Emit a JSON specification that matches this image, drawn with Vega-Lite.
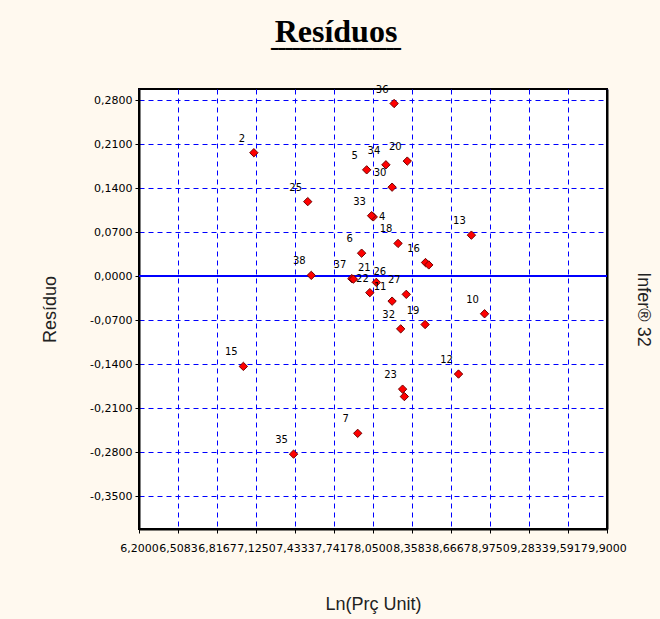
{
  "$schema": "https://vega.github.io/schema/vega-lite/v6.json",
  "width": 468,
  "height": 440,
  "autosize": {"type": "none"},
  "padding": {"left": 139, "top": 89, "right": 53, "bottom": 90},
  "background": "#fff9ef",
  "config": {
    "locale": {"number": {"decimal": ",", "thousands": ".", "grouping": [3], "currency": ["", ""], "minus": "-"}},
    "view": {"fill": "#ffffff", "stroke": "#000000", "strokeWidth": 2},
    "axis": {
      "labelFont": "DejaVu Sans",
      "labelFontSize": 11,
      "labelColor": "#000000",
      "labelOverlap": false,
      "tickColor": "#000000",
      "tickSize": 4,
      "domain": true,
      "domainColor": "#000000",
      "domainWidth": 2,
      "gridColor": "#0000ff",
      "gridDash": [5, 4],
      "gridWidth": 1,
      "gridOpacity": 1,
      "titleFont": "Liberation Sans",
      "titleFontSize": 18,
      "titleFontWeight": "normal",
      "titleColor": "#222222"
    },
    "axisX": {"labelOverlap": false, "labelFlush": false, "labelBound": false, "labelPadding": 9, "titlePadding": 42},
    "axisLeft": {"labelPadding": 3, "titlePadding": 30}
  },
  "title": {
    "text": "Resíduos",
    "subtitle": "━━━━━━━━━━━━━━━━━━",
    "frame": "group",
    "anchor": "middle",
    "dx": -37,
    "offset": 29,
    "font": "Liberation Serif",
    "fontSize": 32,
    "fontWeight": "bold",
    "color": "#000000",
    "subtitleFont": "DejaVu Sans",
    "subtitleFontSize": 12,
    "subtitleColor": "#000000",
    "subtitlePadding": -5
  },
  "data": {
    "values": [
      {"id": "2", "x": 7.108, "y": 0.1961},
      {"id": "5", "x": 8.000, "y": 0.1689},
      {"id": "34", "x": 8.152, "y": 0.1769},
      {"id": "20", "x": 8.321, "y": 0.1828},
      {"id": "30", "x": 8.201, "y": 0.1413},
      {"id": "36", "x": 8.217, "y": 0.2744},
      {"id": "25", "x": 7.534, "y": 0.1183},
      {"id": "4", "x": 8.052, "y": 0.0940},
      {"id": "33", "x": 8.039, "y": 0.0959},
      {"id": "18", "x": 8.248, "y": 0.0518},
      {"id": "13", "x": 8.828, "y": 0.0650},
      {"id": "6", "x": 7.960, "y": 0.0363},
      {"id": "16", "x": 8.465, "y": 0.0214},
      {"id": "", "x": 8.491, "y": 0.0176},
      {"id": "38", "x": 7.562, "y": 0.0010},
      {"id": "37", "x": 7.883, "y": -0.0042},
      {"id": "22", "x": 7.895, "y": -0.0050},
      {"id": "21", "x": 8.076, "y": -0.0101},
      {"id": "26", "x": 8.025, "y": -0.0265},
      {"id": "11", "x": 8.201, "y": -0.0400},
      {"id": "27", "x": 8.313, "y": -0.0292},
      {"id": "19", "x": 8.462, "y": -0.0772},
      {"id": "32", "x": 8.269, "y": -0.0841},
      {"id": "10", "x": 8.932, "y": -0.0601},
      {"id": "12", "x": 8.726, "y": -0.1560},
      {"id": "15", "x": 7.025, "y": -0.1438},
      {"id": "23", "x": 8.284, "y": -0.1800},
      {"id": "", "x": 8.298, "y": -0.1918},
      {"id": "7", "x": 7.929, "y": -0.2503},
      {"id": "35", "x": 7.422, "y": -0.2834}
    ]
  },
  "encoding": {
    "x": {
      "field": "x",
      "type": "quantitative",
      "scale": {"domain": [6.2, 9.9], "nice": false, "zero": false},
      "axis": {
        "values": [6.2, 6.508333, 6.816667, 7.125, 7.433333, 7.741667, 8.05, 8.358333, 8.666667, 8.975, 9.283333, 9.591667, 9.9],
        "format": ".4f",
        "title": "Ln(Prç Unit)",
        "labelOverlap": false,
        "grid": true
      }
    }
  },
  "resolve": {"axis": {"y": "independent"}},
  "layer": [
    {
      "mark": {"type": "rule", "color": "#0000ff", "strokeWidth": 2},
      "encoding": {
        "x": {"datum": 6.2, "type": "quantitative"},
        "x2": {"datum": 9.9},
        "y": {
          "datum": 0,
          "type": "quantitative",
          "scale": {"domain": [-0.4025, 0.2975], "nice": false, "zero": false},
          "axis": {"orient": "right", "title": "Infer® 32", "titleAngle": 90, "titlePadding": 26, "labels": false, "ticks": false, "domain": true, "grid": false}
        }
      }
    },
    {
      "mark": {"type": "point", "shape": "diamond", "filled": true, "size": 70, "fill": "#ff0000", "stroke": "#700000", "strokeWidth": 1, "opacity": 1},
      "encoding": {
        "y": {
          "field": "y",
          "type": "quantitative",
          "scale": {"domain": [-0.4025, 0.2975], "nice": false, "zero": false},
          "axis": {
            "values": [-0.35, -0.28, -0.21, -0.14, -0.07, 0, 0.07, 0.14, 0.21, 0.28],
            "format": ".4f",
            "title": "Resíduo",
            "labelOverlap": false,
            "grid": true
          }
        }
      }
    },
    {
      "transform": [{"filter": "indexof(['4','22','26'], datum.id) < 0"}],
      "mark": {"type": "text", "font": "DejaVu Sans", "fontSize": 10, "color": "#000000", "align": "center", "baseline": "middle", "dx": -12, "dy": -14},
      "encoding": {
        "y": {"field": "y", "type": "quantitative", "axis": null},
        "text": {"field": "id"}
      }
    },
    {
      "transform": [{"filter": "datum.id == '4' || datum.id == '22'"}],
      "mark": {"type": "text", "font": "DejaVu Sans", "fontSize": 10, "color": "#000000", "align": "center", "baseline": "middle", "dx": 9, "dy": 0},
      "encoding": {
        "y": {"field": "y", "type": "quantitative", "axis": null},
        "text": {"field": "id"}
      }
    },
    {
      "transform": [{"filter": "datum.id == '26'"}],
      "mark": {"type": "text", "font": "DejaVu Sans", "fontSize": 10, "color": "#000000", "align": "center", "baseline": "middle", "dx": 10, "dy": -21},
      "encoding": {
        "y": {"field": "y", "type": "quantitative", "axis": null},
        "text": {"field": "id"}
      }
    }
  ]
}
